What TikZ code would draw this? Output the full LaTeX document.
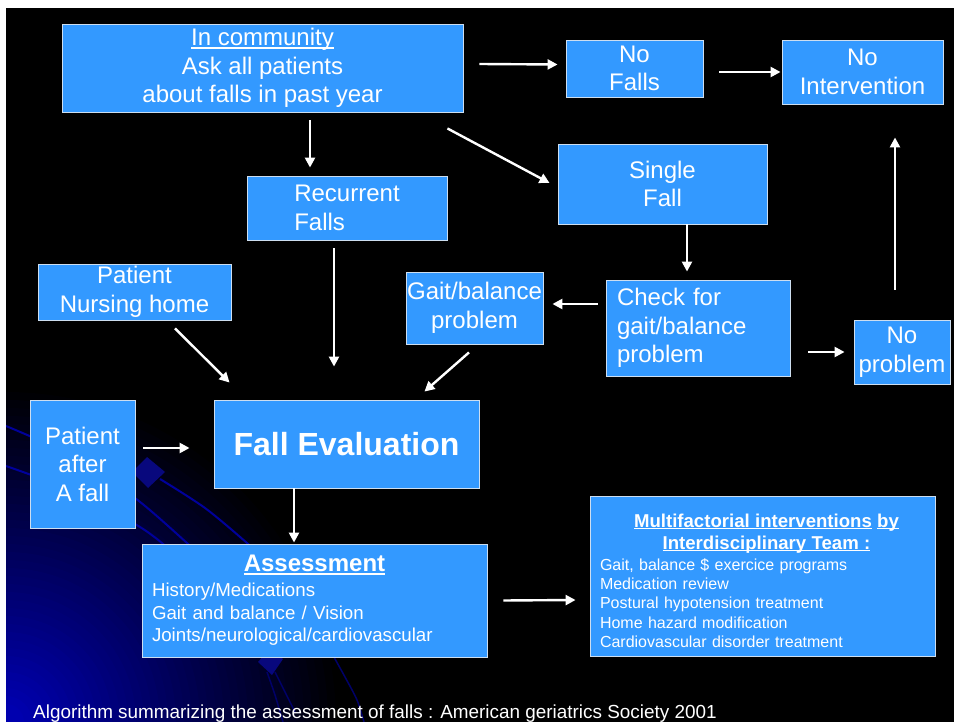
\documentclass[tikz,border=0pt]{standalone}
\usepackage{fontspec}
\setmainfont{Liberation Sans}
\usetikzlibrary{arrows.meta}
\definecolor{boxblue}{RGB}{51,153,255}
\definecolor{boxedge}{RGB}{205,222,240}
\definecolor{glow}{RGB}{0,0,175}
\definecolor{deco}{RGB}{0,0,155}
\definecolor{decofaint}{RGB}{0,0,105}
\definecolor{decofill}{RGB}{8,8,125}
\newcommand{\myuline}[1]{\leavevmode\setbox0\hbox{#1}\rlap{\rule[-0.12em]{\wd0}{0.06em}}\box0\relax}
\begin{document}
\begin{tikzpicture}[x=1pt,y=-1pt,
  box/.style={draw=boxedge, line width=0.9pt, fill=boxblue, text=white, inner sep=0pt,
    font=\fontsize{24}{28.5}\selectfont},
  cbox/.style={box, align=center},
  arr/.style={draw=white, line width=2.4pt, -{Triangle[length=10pt,width=10pt]}},
  decoline/.style={draw=deco, line width=2pt},
  decofaintline/.style={draw=decofaint, line width=1.5pt}
]
\useasboundingbox (0,0) rectangle (954,722);
\fill[black] (6,8) rectangle (954,722);
\begin{scope}
  \clip (6,8) rectangle (954,722);
  \foreach \i in {0,...,39}{
    \pgfmathsetmacro{\pct}{100*(\i+1)/40}
    \fill[glow!\pct!black] (6,722) circle[radius={330-8*\i}];
  }
  \draw[decoline] plot[smooth] coordinates {(6,426) (70,455) (135,498) (187,543) (200,556)};
  \draw[decoline] plot[smooth] coordinates {(6,466) (70,490) (135,524) (162,543) (175,556)};
  \draw[decoline] plot[smooth] coordinates {(160,479) (205,508) (247,543) (260,556)};
  \draw[decofaintline] plot[smooth] coordinates {(330,650) (345,677) (357,700) (364,722)};
  \draw[decofaintline] plot[smooth] coordinates {(267,672) (275,695) (283,722)};
  \draw[decofaintline] plot[smooth] coordinates {(275,672) (285,692) (295,712)};
  \fill[decofill] (147,457) -- (165,472) -- (148,488) -- (132,472) -- cycle;
  \fill[decofill] (270,648) -- (283,659) -- (272,675) -- (258,662) -- cycle;
\end{scope}
\fill[white] (0,0) rectangle (954,8);
\fill[white] (0,0) rectangle (6,722);

\node[cbox, minimum width=401pt, minimum height=88pt] (comm) at (262.5,68)
  {\myuline{In community}\\Ask all patients\\about falls in past year};
\node[cbox, minimum width=137pt, minimum height=57pt] (nofalls) at (634.5,68.5) {No\\Falls};
\node[cbox, minimum width=161pt, minimum height=64pt] (noint) at (862.5,72) {No\\Intervention};
\node[box, align=left, minimum width=200pt, minimum height=64pt] (rec) at (347,208) {Recurrent\\Falls};
\node[cbox, minimum width=209pt, minimum height=80pt] (single) at (662.5,184) {Single\\Fall};
\node[cbox, minimum width=193pt, minimum height=56pt] (nursing) at (134.5,292) {Patient\\Nursing home};
\node[cbox, minimum width=137pt, minimum height=72pt] (gait) at (474.5,308) {Gait/balance\\problem};
\node[box, align=left, text width=162pt, minimum width=184pt, minimum height=96pt] (check) at (698,328)
  {Check for\\gait/balance\\problem};
\node[cbox, minimum width=96pt, minimum height=64pt] (noprob) at (902,352) {No\\problem};
\node[cbox, minimum width=105pt, minimum height=128pt] (after) at (82.5,464) {Patient\\after\\A fall};
\node[cbox, minimum width=265pt, minimum height=88pt, font=\fontsize{32}{38}\selectfont\bfseries] (evalb) at (346.5,444)
  {Fall Evaluation};
\node[box, text width=325pt, minimum width=345pt, minimum height=113pt,
  font=\fontsize{18.7}{22.5}\selectfont] (assess) at (314.5,600.5)
  {{\centering\fontsize{24}{26}\selectfont\bfseries\myuline{Assessment}\par}\vspace{2.5pt}
   \raggedright History/Medications\\Gait and balance / Vision\\Joints/neurological/cardiovascular};
\node[box, minimum width=345pt, minimum height=160pt] (multi) at (762.5,576) {};
\node[anchor=north, inner sep=0pt, text=white, text width=325pt,
  font=\fontsize{16}{19.25}\selectfont] (multitxt) at ([yshift=-18pt]multi.north)
  {{\centering\fontsize{18.6}{22}\selectfont\bfseries\hspace*{8pt}\myuline{Multifactorial interventions} \myuline{by}\\
    \hspace*{8pt}\myuline{Interdisciplinary Team :}\par}\vspace{2pt}
   \raggedright Gait, balance \$ exercice programs\\Medication review\\Postural hypotension treatment\\
   Home hazard modification\\Cardiovascular disorder treatment};
\node[anchor=base west, inner sep=0pt, text=white, font=\fontsize{18.9}{22}\selectfont] (cap) at (33,718)
  {Algorithm summarizing the assessment of falls : American geriatrics Society 2001};

\draw[arr] ([xshift=47.5pt,yshift=-8pt]comm.south) -- ([xshift=-37pt,yshift=8pt]rec.north);
\draw[arr] ([xshift=-16pt,yshift=-16pt]comm.south east) -- ([xshift=-8pt,yshift=1pt]single.west);
\draw[arr] ([xshift=16pt,yshift=4pt]comm.east) -- ([xshift=-8pt,yshift=4pt]nofalls.west);
\draw[arr] ([xshift=16pt,yshift=-3.5pt]nofalls.east) -- ([xshift=-1pt]noint.west);
\draw[arr] ([xshift=24.5pt]single.south) -- ([xshift=-11pt,yshift=8pt]check.north);
\draw[arr] ([xshift=-8pt,yshift=24pt]check.west) -- ([xshift=9pt,yshift=4pt]gait.east);
\draw[arr] ([xshift=18pt,yshift=-24pt]check.east) -- ([xshift=-9pt]noprob.west);
\draw[arr] ([xshift=-7pt,yshift=30pt]noprob.north) -- ([xshift=32.5pt,yshift=-33pt]noint.south);
\draw[arr] ([xshift=40.5pt,yshift=-8pt]nursing.south) -- ([xshift=16pt,yshift=17pt]evalb.north west);
\draw[arr] ([xshift=-13pt,yshift=-8pt]rec.south) -- ([xshift=-12.5pt,yshift=33pt]evalb.north);
\draw[arr] ([xshift=-5.5pt,yshift=-8pt]gait.south) -- ([xshift=-55pt,yshift=8pt]evalb.north east);
\draw[arr] ([xshift=8pt,yshift=16pt]after.east) -- ([xshift=-24pt,yshift=-4pt]evalb.west);
\draw[arr] ([xshift=-52.5pt]evalb.south) -- ([xshift=-20.5pt,yshift=1pt]assess.north);
\draw[arr] ([xshift=16pt]assess.east) -- ([xshift=-14pt,yshift=-24pt]multi.west);
\end{tikzpicture}
\end{document}
